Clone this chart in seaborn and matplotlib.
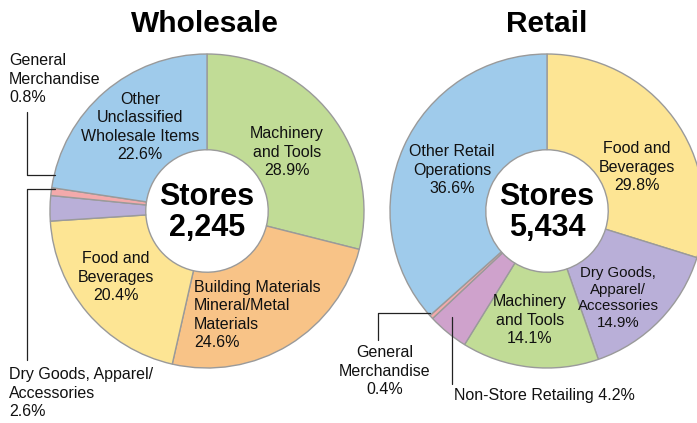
import matplotlib
matplotlib.use("Agg")
import matplotlib.pyplot as plt
import seaborn as sns

sns.set_theme(style="white")
plt.rcParams["font.family"] = ["Liberation Sans", "DejaVu Sans"]
plt.rcParams["text.color"] = "black"

# ---------------- data ----------------
wholesale_labels = ["Machinery and Tools", "Building Materials Mineral/Metal Materials",
                    "Food and Beverages", "Dry Goods, Apparel/Accessories",
                    "General Merchandise", "Other Unclassified Wholesale Items"]
wholesale_values = [28.9, 24.6, 20.4, 2.6, 0.8, 22.6]
wholesale_total = "2,245"

retail_labels = ["Food and Beverages", "Dry Goods, Apparel/Accessories",
                 "Machinery and Tools", "Non-Store Retailing",
                 "General Merchandise", "Other Retail Operations"]
retail_values = [29.8, 14.9, 14.1, 4.2, 0.4, 36.6]
retail_total = "5,434"

C_BLUE, C_GREEN, C_ORANGE = "#9fcbeb", "#c1dc96", "#f8c387"
C_YELLOW, C_PURPLE, C_PINK, C_MAG = "#fde594", "#b9afd8", "#f3aaab", "#cfa2cc"
wholesale_colors = sns.color_palette([C_GREEN, C_ORANGE, C_YELLOW, C_PURPLE, C_PINK, C_BLUE])
retail_colors = sns.color_palette([C_YELLOW, C_PURPLE, C_GREEN, C_MAG, C_PINK, C_BLUE])

W, H = 697, 423
fig = plt.figure(figsize=(W / 100, H / 100), dpi=100)
ax = fig.add_axes([0, 0, 1, 1])


def Y(py):
    return H - py


R = 157
wedge = dict(width=0.61 * R, edgecolor="#9a9a9a", linewidth=1.0)
ax.pie(wholesale_values, colors=wholesale_colors, startangle=90, counterclock=False,
       radius=R, center=(207, Y(211)), wedgeprops=wedge, normalize=True)
ax.pie(retail_values, colors=retail_colors, startangle=90, counterclock=False,
       radius=R, center=(547, Y(211)), wedgeprops=wedge, normalize=True)
ax.set_xlim(0, W)
ax.set_ylim(0, H)
ax.set_aspect("auto")
ax.axis("off")

fs = 11.5
ls = 1.28
txt = dict(fontsize=fs, color="#111111", linespacing=ls, va="center")

# titles
ax.text(205, Y(24), "Wholesale", fontsize=21.5, fontweight="bold", ha="center", va="center", color="black")
ax.text(547, Y(24), "Retail", fontsize=21.5, fontweight="bold", ha="center", va="center", color="black")

# centre totals
for cx, tot in [(207, wholesale_total), (547, retail_total)]:
    ax.text(cx, Y(197), "Stores", fontsize=22, fontweight="bold", ha="center", va="center", color="black")
    ax.text(cx, Y(228), tot, fontsize=22, fontweight="bold", ha="center", va="center", color="black")

# wholesale labels
ax.text(140, Y(127), f"Other\nUnclassified\nWholesale Items\n{wholesale_values[5]}%", ha="center", **txt)
ax.text(287, Y(152), f"Machinery\nand Tools\n{wholesale_values[0]}%", ha="center", **txt)
ax.text(116, Y(277), f"Food and\nBeverages\n{wholesale_values[2]}%", ha="center", **txt)
ax.text(194, Y(315), f"Building Materials\nMineral/Metal\nMaterials\n{wholesale_values[1]}%", ha="left", **txt)
ax.text(9, Y(79), f"General\nMerchandise\n{wholesale_values[4]}%", ha="left", **txt)
ax.text(9, Y(393), f"Dry Goods, Apparel/\nAccessories\n{wholesale_values[3]}%", ha="left", **txt)

lk = dict(color="#222222", linewidth=0.9)
ax.plot([27, 27, 55], [Y(112), Y(175), Y(175)], **lk)
ax.plot([55, 27, 27], [Y(189), Y(189), Y(360)], **lk)

# retail labels
ax.text(452, Y(170), f"Other Retail\nOperations\n{retail_values[5]}%", ha="center", **txt)
ax.text(637, Y(167), f"Food and\nBeverages\n{retail_values[0]}%", ha="center", **txt)
ax.text(618, Y(298), f"Dry Goods,\nApparel/\nAccessories\n{retail_values[1]}%", ha="center",
        fontsize=10.8, color="#111111", linespacing=1.22, va="center")
ax.text(530, Y(320), f"Machinery\nand Tools\n{retail_values[2]}%", ha="center", **txt)
ax.text(385, Y(371), f"General\nMerchandise\n{retail_values[4]}%", ha="center", **txt)
ax.text(544, Y(395), f"Non-Store Retailing {retail_values[3]}%", ha="center", **txt)

ax.plot([378, 378, 430], [Y(340), Y(313), Y(313)], **lk)
ax.plot([452, 452], [Y(317), Y(384)], **lk)

fig.savefig("out.png", dpi=100)
